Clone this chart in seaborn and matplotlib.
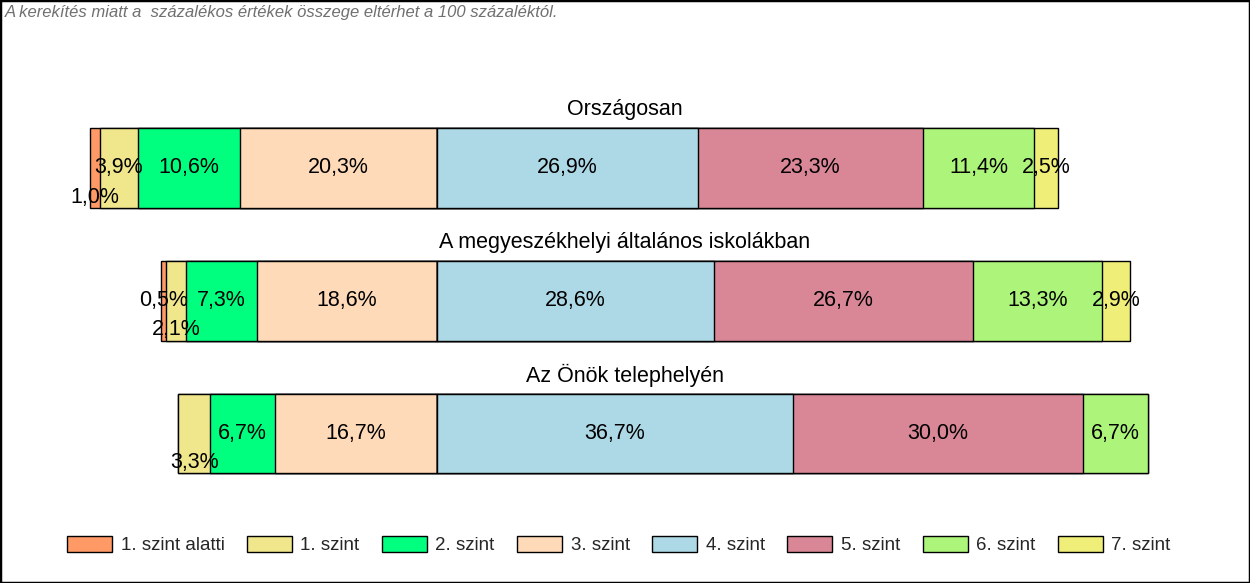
import numpy as np
import pandas as pd
import seaborn as sns
import matplotlib.pyplot as plt
from matplotlib.patches import Patch, Rectangle

groups = ["Országosan", "A megyeszékhelyi általános iskolákban", "Az Önök telephelyén"]
levels = ["1. szint alatti", "1. szint", "2. szint", "3. szint",
          "4. szint", "5. szint", "6. szint", "7. szint"]
colors = ["#FF9966", "#F0E68C", "#00FF7F", "#FFDAB9",
          "#ADD8E6", "#D98797", "#ADF57A", "#EFEE78"]

orszagos = [1.0, 3.9, 10.6, 20.3, 26.9, 23.3, 11.4, 2.5]
megye = [0.5, 2.1, 7.3, 18.6, 28.6, 26.7, 13.3, 2.9]
telephely = [0.0, 3.3, 6.7, 16.7, 36.7, 30.0, 6.7, 0.0]

note = "A kerekítés miatt a  százalékos értékek összege eltérhet a 100 százaléktól."

sns.set_theme(style="white")
plt.rcParams["font.family"] = ["Liberation Sans", "DejaVu Sans"]

values = np.array([orszagos, megye, telephely])
n_lev = len(levels)
split = 4  # bars are anchored at the 3./4. szint boundary

# segment edges: left side negative, right side positive
left_edges = np.zeros_like(values)
right_edges = np.zeros_like(values)
for i in range(split):
    left_edges[:, i] = -values[:, i:split].sum(axis=1)
for j in range(split, n_lev):
    right_edges[:, j] = values[:, split:j + 1].sum(axis=1)

fig = plt.figure(figsize=(12.5, 5.83), dpi=100)
ax = fig.add_axes([0, 0, 1, 1])

# outer segments first so inner ones are drawn over them
order = list(range(split)) + list(range(n_lev - 1, split - 1, -1))
for k in order:
    edge = left_edges[:, k] if k < split else right_edges[:, k]
    df = pd.DataFrame({"group": groups, "edge": edge})
    sns.barplot(data=df, x="edge", y="group", orient="h", color=colors[k],
                saturation=1, width=0.6, edgecolor="black", linewidth=1,
                errorbar=None, ax=ax)

# value labels, stepping outward from the middle; crowded ones drop down
thresh = 5.2
for g in range(len(groups)):
    starts = np.concatenate([left_edges[g, :split],
                             right_edges[g, split:] - values[g, split:]])
    mids = starts + values[g] / 2
    for side in (range(split - 1, -1, -1), range(split, n_lev)):
        last = None
        for k in side:
            v = values[g, k]
            if v <= 0:
                continue
            dy = 0
            if last is not None and abs(mids[k] - last) < thresh:
                dy = 0.22
            else:
                last = mids[k]
            ax.text(mids[k], g + dy, f"{v:.1f}%".replace(".", ","),
                    ha="center", va="center", fontsize=15.5, color="black")
    ax.text(0.5, g - 0.44, groups[g], transform=ax.get_yaxis_transform(),
            ha="center", va="center", fontsize=15.5, color="black")

scale = 9.69
ax.set_xlim(-437 / scale, (1250 - 437) / scale)
ax.set_ylim((583 - 168) / 132.75, -168 / 132.75)
ax.axis("off")

handles = [Patch(facecolor=c, edgecolor="black", linewidth=1) for c in colors]
fig.legend(handles, levels, loc="center", bbox_to_anchor=(0.495, 0.065),
           ncol=n_lev, frameon=False, fontsize=13.5, handlelength=2.4,
           handleheight=0.95, handletextpad=0.45, columnspacing=1.2)

fig.text(0.004, 0.978, note, ha="left", va="center", fontsize=12,
         style="italic", color="#707070")
fig.patches.append(Rectangle((0, 0), 1, 1, transform=fig.transFigure,
                             fill=False, edgecolor="black", linewidth=2.5))

fig.savefig("out.png", dpi=100)
